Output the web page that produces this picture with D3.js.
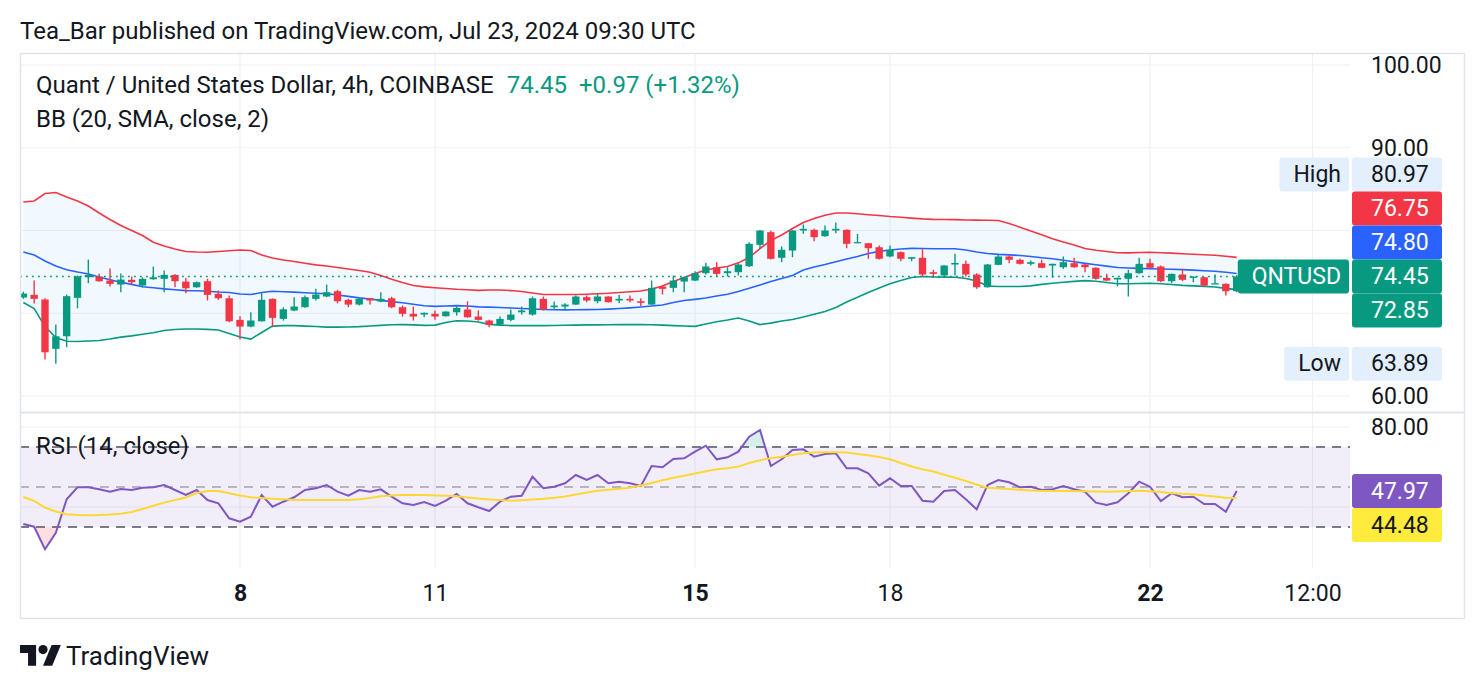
<!DOCTYPE html>
<meta charset="utf-8">
<script src="https://d3js.org/d3.v7.min.js"></script>
<style>
body { margin: 0; background: #fff; }
text { font-family: Roboto, "Noto Sans", sans-serif; fill: #131722; }
</style>
<div id="chart"></div>
<script>

// 4h bars, the first one opens Jul 4 2024 16:00 UTC
var firstBar = Date.UTC(2024, 6, 4, 16);
var barMs = 4 * 3600 * 1000;

var open = [71.90,72.22,71.66,65.70,67.22,71.86,74.35,74.44,73.95,73.47,
  74.04,73.35,74.11,74.16,74.64,73.83,73.14,73.87,72.35,71.81,
  69.20,68.39,69.03,71.74,69.32,70.33,70.73,71.74,72.02,72.66,
  71.62,71.05,71.81,71.41,71.81,70.73,69.93,69.84,69.93,69.64,
  70.12,70.45,69.60,69.12,68.63,69.20,70.12,69.84,71.74,70.73,
  70.81,71.05,71.94,71.45,72.02,71.54,71.74,71.45,71.05,73.23,
  73.07,73.83,73.95,74.84,75.56,74.84,74.96,75.68,78.27,79.80,
  76.70,77.58,80.00,80.08,79.31,80.00,80.08,78.50,78.46,77.98,
  76.86,77.38,76.58,76.70,74.96,74.56,75.89,75.97,74.68,73.14,
  75.85,76.86,76.46,75.97,76.05,75.77,75.56,76.05,75.89,75.49,
  74.28,74.08,74.16,74.84,76.05,75.65,73.87,74.68,74.28,74.35,
  73.47,73.55,72.66];
var high = [72.60,73.95,71.80,68.63,72.26,74.56,76.49,74.76,75.40,74.80,
  74.44,74.35,75.65,75.16,74.70,74.28,73.83,74.16,72.74,72.14,
  69.64,70.12,72.54,71.80,70.73,71.94,72.14,72.95,73.47,72.83,
  71.74,71.86,71.85,72.54,72.00,70.93,70.81,70.10,70.33,70.25,
  70.81,71.45,70.33,69.20,69.60,70.45,70.81,72.02,72.02,71.41,
  71.20,72.14,72.14,72.35,72.05,72.22,72.14,71.81,73.95,73.35,
  74.56,74.44,75.08,76.10,76.17,75.56,76.05,78.59,80.05,80.00,
  78.07,80.05,80.73,80.20,80.60,80.97,80.15,79.60,78.50,78.19,
  78.19,77.45,76.80,77.79,75.25,75.80,77.18,76.37,74.84,75.95,
  77.18,76.98,76.58,76.37,76.46,76.00,76.86,76.70,75.97,75.56,
  74.76,74.30,75.25,76.70,76.58,75.77,74.80,75.37,74.47,74.40,
  74.68,73.63,74.60];
var low = [71.75,71.17,64.40,63.89,65.89,70.60,73.63,73.80,73.23,72.54,
  73.47,73.14,74.04,72.54,73.14,72.42,73.07,71.54,71.62,68.91,
  66.82,68.30,69.00,68.31,69.12,70.24,70.65,71.54,71.94,71.20,
  70.73,70.93,71.05,71.33,70.60,69.60,69.12,69.52,69.20,69.60,
  69.72,69.44,69.10,68.31,68.50,69.03,69.84,69.72,70.33,70.45,
  70.45,71.00,71.33,71.20,71.30,71.20,71.33,70.85,71.00,72.26,
  72.54,72.54,73.90,74.68,74.44,74.44,74.56,75.60,77.79,76.50,
  76.17,76.77,79.60,78.70,79.25,79.67,77.86,78.46,76.58,76.50,
  76.77,76.29,76.29,74.44,74.28,74.35,74.56,74.44,72.95,73.10,
  75.80,76.05,75.89,75.77,75.45,74.28,75.37,75.49,74.96,74.04,
  73.90,73.23,72.02,74.76,75.37,73.75,73.63,73.87,73.75,73.23,
  73.60,72.14,72.55];
var close = [72.38,71.74,65.28,67.22,72.06,74.47,74.64,73.87,73.55,74.07,
  73.75,74.16,74.35,74.64,73.87,73.02,73.75,72.22,71.81,69.03,
  68.39,69.12,71.62,69.44,70.48,70.81,71.94,72.26,72.54,71.45,
  71.05,71.74,71.54,71.74,70.73,69.93,69.60,70.05,69.60,70.20,
  70.65,69.52,69.20,68.60,69.32,69.84,70.33,71.81,70.45,70.93,
  71.05,72.02,71.54,72.02,71.33,71.74,71.54,71.26,73.07,72.95,
  73.95,74.35,74.84,75.65,74.76,75.08,75.89,78.39,80.00,76.58,
  77.67,80.00,80.20,79.19,80.00,80.20,78.39,78.60,77.86,76.58,
  77.67,76.58,76.77,74.68,74.76,75.77,76.08,74.68,73.14,75.89,
  76.86,76.46,75.97,76.17,75.49,75.97,76.17,75.56,75.56,74.16,
  73.95,74.28,74.84,75.97,75.49,73.87,74.76,74.04,74.44,73.35,
  73.63,72.66,74.45];

// Bollinger Bands (20, SMA, close, 2)
var bbUpper = [83.45,83.57,84.47,84.59,84.05,83.57,82.96,82.12,81.33,80.60,
  80.00,79.40,78.59,78.13,77.76,77.46,77.40,77.38,77.46,77.55,
  77.64,77.58,77.04,76.67,76.43,76.25,76.05,75.85,75.71,75.53,
  75.34,75.16,74.96,74.56,74.11,73.71,73.35,73.19,73.08,72.99,
  72.90,72.84,72.77,72.81,72.81,72.74,72.62,72.44,72.26,72.26,
  72.26,72.26,72.30,72.35,72.41,72.50,72.59,72.68,72.93,73.29,
  73.83,74.32,74.80,75.22,75.47,75.65,76.09,76.74,77.82,78.79,
  79.46,80.24,80.97,81.45,81.85,82.12,82.12,82.02,81.91,81.81,
  81.69,81.60,81.50,81.41,81.35,81.33,81.31,81.27,81.25,81.23,
  81.21,80.85,80.40,79.94,79.48,78.99,78.61,78.25,77.82,77.61,
  77.46,77.32,77.30,77.34,77.38,77.32,77.26,77.19,77.13,77.07,
  77.01,76.89,76.75];
var bbBasis = [77.40,77.04,76.31,75.71,75.25,74.98,74.74,74.38,74.05,73.74,
  73.49,73.20,73.08,72.95,72.84,72.74,72.71,72.66,72.56,72.50,
  72.32,72.26,72.50,72.65,72.60,72.55,72.48,72.41,72.35,72.20,
  72.04,71.86,71.72,71.56,71.41,71.26,71.09,70.91,70.83,70.87,
  70.92,70.87,70.77,70.74,70.69,70.63,70.57,70.51,70.46,70.42,
  70.41,70.42,70.44,70.45,70.50,70.57,70.65,70.75,70.87,70.99,
  71.29,71.54,71.68,71.84,72.08,72.29,72.62,73.02,73.41,73.83,
  74.20,74.56,75.22,75.59,75.89,76.23,76.55,76.86,77.22,77.48,
  77.64,77.76,77.84,77.82,77.80,77.79,77.79,77.64,77.40,77.22,
  77.12,77.06,76.98,76.86,76.71,76.58,76.40,76.22,76.03,75.86,
  75.70,75.53,75.47,75.42,75.38,75.34,75.31,75.27,75.21,75.14,
  75.07,74.95,74.80];
var bbLower = [71.29,70.57,68.39,67.06,66.61,66.58,66.64,66.70,66.88,67.11,
  67.27,67.46,67.64,67.91,68.03,68.10,68.10,68.05,67.97,67.55,
  67.12,66.88,67.67,68.45,68.51,68.51,68.45,68.39,68.32,68.32,
  68.34,68.38,68.45,68.54,68.61,68.63,68.60,68.54,68.57,68.88,
  69.09,69.06,68.94,68.66,68.56,68.51,68.51,68.51,68.51,68.52,
  68.55,68.57,68.59,68.60,68.61,68.62,68.63,68.63,68.61,68.56,
  68.51,68.46,68.42,68.69,68.97,69.18,69.42,69.06,68.63,68.81,
  69.06,69.24,69.54,69.87,70.21,70.69,71.35,71.93,72.50,73.05,
  73.56,73.95,74.32,74.44,74.38,74.37,74.35,74.20,73.89,73.29,
  73.23,73.23,73.23,73.31,73.49,73.63,73.74,73.85,73.94,73.86,
  73.71,73.56,73.57,73.59,73.62,73.57,73.47,73.37,73.31,73.25,
  73.18,73.01,72.85];

// RSI (14, close) and its moving average
var rsi = [31.5,30.15,18.85,27.15,43.85,49.85,49.85,48.85,47.65,49.0,
  48.5,49.65,49.85,51.0,48.5,46.0,48.5,43.5,41.85,34.35,
  32.65,35.15,46.0,40.15,42.65,44.85,48.5,49.35,51.0,47.65,
  45.65,48.5,47.65,48.85,45.15,41.85,41.0,42.5,40.5,43.15,
  46.5,41.85,39.85,38.0,42.65,45.15,45.65,55.15,49.35,50.15,
  51.85,56.0,53.5,56.0,51.85,52.65,51.85,50.5,60.5,59.85,
  64.0,64.35,67.65,70.65,63.85,64.85,67.65,75.15,78.5,60.5,
  63.85,68.5,68.85,65.15,66.5,66.85,59.35,59.35,56.85,50.65,
  54.35,50.5,50.5,43.15,42.65,48.0,48.5,43.85,38.85,51.0,
  53.5,52.35,49.85,50.15,48.5,48.85,50.5,48.85,47.65,42.15,
  41.0,42.35,46.85,52.65,50.15,43.0,46.85,44.85,45.15,41.5,
  41.5,37.65,47.97];
var rsiMa = [45.0,43.0,39.75,37.75,36.35,36.0,35.85,35.95,36.2,36.6,
  37.5,39.0,40.6,42.2,43.5,44.75,47.0,48.0,48.0,46.85,
  45.75,44.85,44.5,44.15,43.85,43.6,43.5,43.5,43.5,43.5,
  43.5,43.9,44.5,45.35,45.75,46.0,46.0,46.0,45.8,45.6,
  45.35,44.8,44.25,43.8,43.45,43.15,43.4,43.75,44.1,44.6,
  45.25,46.25,47.25,48.15,48.65,49.1,49.6,50.75,52.0,53.35,
  54.6,55.65,56.75,57.85,58.9,59.4,60.2,62.0,63.4,64.4,
  65.15,66.0,66.85,67.2,67.35,67.4,67.2,66.5,65.9,65.0,
  63.85,62.0,60.25,58.85,57.75,56.1,54.6,53.0,51.25,49.65,
  49.25,48.95,48.6,48.25,48.0,48.0,48.0,48.0,47.9,47.75,
  47.65,47.8,48.0,48.15,47.9,47.5,46.9,46.6,46.35,45.7,
  45.2,44.6,44.48];

var lastChange = 0.97, lastChangePct = 1.32;
var sessionHigh = 80.97, sessionLow = 63.89;

var timeTicks = [Date.UTC(2024,6,8), Date.UTC(2024,6,11), Date.UTC(2024,6,15),
  Date.UTC(2024,6,18), Date.UTC(2024,6,22), Date.UTC(2024,6,24,12)];
var timeLabels = ["8", "11", "15", "18", "22", "12:00"];
var timeBold = [true, false, true, false, true, false];
var priceTicks = [60, 70, 80, 90, 100];
var rsiTicks = [40, 80];
var rsiLevels = [70, 50, 30];

var green = "#089981", red = "#f23645", blue = "#2962ff",
    purple = "#7e57c2", yellow = "#fdd835";
var gridColor = "#eef0f4", borderColor = "#e0e3eb";

var W = 1484, H = 690;
var box = { left: 20, right: 1350, axisRight: 1465, top: 53,
            priceBottom: 412, rsiTop: 413, rsiBottom: 568, bottom: 619 };
var fsText = "24px", fsAxis = "23px";

var bars = close.map(function(c, i) {
  return { t: new Date(firstBar + i * barMs), o: open[i], h: high[i], l: low[i], c: c,
           up: bbUpper[i], mid: bbBasis[i], lo: bbLower[i], rsi: rsi[i], ma: rsiMa[i] };
});
var last = bars[bars.length - 1];

var x = d3.scaleTime()
  .domain([new Date(Date.UTC(2024,6,8)), new Date(Date.UTC(2024,6,22))])
  .range([240, 1150]);
var y = d3.scaleLinear().domain([60, 100]).range([396, 65]);
var ry = d3.scaleLinear().domain([30, 70]).range([527, 447]);
var step = x(new Date(firstBar + barMs)) - x(new Date(firstBar));
var bodyW = step * 0.68;

var svg = d3.select("#chart").append("svg")
  .attr("width", W).attr("height", H).style("display", "block");
svg.append("rect").attr("width", W).attr("height", H).attr("fill", "#fff");

var defs = svg.append("defs");
function clip(id, x0, y0, x1, y1) {
  defs.append("clipPath").attr("id", id).append("rect")
    .attr("x", x0).attr("y", y0).attr("width", x1 - x0).attr("height", y1 - y0);
}
clip("cPrice", box.left, box.top, box.right, box.priceBottom);
clip("cRsi", box.left, box.rsiTop, box.right, box.rsiBottom);
clip("cOver", box.left, box.rsiTop, box.right, ry(70));
clip("cUnder", box.left, ry(30), box.right, box.rsiBottom);

// header
svg.append("text").attr("x", 20).attr("y", 31).attr("dominant-baseline", "central")
  .style("font-size", fsText)
  .text("Tea_Bar published on TradingView.com, Jul 23, 2024 09:30 UTC");

// grid
var grid = svg.append("g").attr("stroke", gridColor).attr("stroke-width", 1.2);
grid.selectAll(".hg").data(priceTicks).enter().append("line")
  .attr("x1", box.left).attr("x2", box.right)
  .attr("y1", function(d) { return y(d); }).attr("y2", function(d) { return y(d); });
grid.selectAll(".rg").data(rsiTicks).enter().append("line")
  .attr("x1", box.left).attr("x2", box.right)
  .attr("y1", function(d) { return ry(d); }).attr("y2", function(d) { return ry(d); });
grid.selectAll(".vg").data(timeTicks).enter().append("line")
  .attr("x1", function(d) { return x(d); }).attr("x2", function(d) { return x(d); })
  .attr("y1", box.top).attr("y2", box.rsiBottom);

// price pane
var pane = svg.append("g").attr("clip-path", "url(#cPrice)");
var tx = function(d) { return x(d.t); };

pane.append("path").datum(bars)
  .attr("fill", "rgba(33,150,243,0.06)")
  .attr("d", d3.area().x(tx).y0(function(d) { return y(d.lo); }).y1(function(d) { return y(d.up); }));
[["up", red], ["mid", blue], ["lo", green]].forEach(function(s) {
  pane.append("path").datum(bars)
    .attr("fill", "none").attr("stroke", s[1]).attr("stroke-width", 1.6)
    .attr("d", d3.line().x(tx).y(function(d) { return y(d[s[0]]); }));
});

var candle = pane.selectAll(".candle").data(bars).enter().append("g")
  .attr("fill", function(d) { return d.c >= d.o ? green : red; })
  .attr("stroke", function(d) { return d.c >= d.o ? green : red; });
candle.append("line")
  .attr("x1", tx).attr("x2", tx).attr("stroke-width", 1.4)
  .attr("y1", function(d) { return y(d.h); }).attr("y2", function(d) { return y(d.l); });
candle.append("rect").attr("stroke", "none")
  .attr("x", function(d) { return x(d.t) - bodyW / 2; }).attr("width", bodyW)
  .attr("y", function(d) { return y(Math.max(d.o, d.c)); })
  .attr("height", function(d) { return Math.max(1.2, Math.abs(y(d.o) - y(d.c))); });

// last price dotted line
pane.append("line")
  .attr("x1", box.left).attr("x2", box.right)
  .attr("y1", y(last.c)).attr("y2", y(last.c))
  .attr("stroke", green).attr("stroke-width", 1.6).attr("stroke-dasharray", "1.8,4.2");

// legends
var lg = svg.append("text").attr("x", 36).attr("y", 85).attr("dominant-baseline", "central")
  .style("font-size", fsText);
lg.append("tspan").text("Quant / United States Dollar, 4h, COINBASE");
lg.append("tspan").attr("dx", 13).style("fill", green).text(last.c.toFixed(2));
lg.append("tspan").attr("dx", 12).style("fill", green)
  .text("+" + lastChange.toFixed(2) + " (+" + lastChangePct.toFixed(2) + "%)");
svg.append("text").attr("x", 36).attr("y", 119).attr("dominant-baseline", "central")
  .style("font-size", fsText).text("BB (20, SMA, close, 2)");

// RSI pane
var rp = svg.append("g").attr("clip-path", "url(#cRsi)");
rp.append("rect").attr("x", box.left).attr("width", box.right - box.left)
  .attr("y", ry(70)).attr("height", ry(30) - ry(70)).attr("fill", "rgba(126,87,194,0.1)");
rp.selectAll(".lvl").data(rsiLevels).enter().append("line")
  .attr("x1", box.left).attr("x2", box.right)
  .attr("y1", function(d) { return ry(d); }).attr("y2", function(d) { return ry(d); })
  .attr("stroke", function(d) { return d === 50 ? "rgba(120,123,134,0.5)" : "#787b86"; })
  .attr("stroke-width", 2).attr("stroke-dasharray", "9,7");

rp.append("path").datum(bars).attr("clip-path", "url(#cOver)")
  .attr("fill", "rgba(8,153,129,0.16)")
  .attr("d", d3.area().x(tx).y0(ry(70)).y1(function(d) { return ry(d.rsi); }));
rp.append("path").datum(bars).attr("clip-path", "url(#cUnder)")
  .attr("fill", "rgba(242,54,69,0.16)")
  .attr("d", d3.area().x(tx).y0(ry(30)).y1(function(d) { return ry(d.rsi); }));
rp.append("path").datum(bars).attr("fill", "none")
  .attr("stroke", purple).attr("stroke-width", 2)
  .attr("d", d3.line().x(tx).y(function(d) { return ry(d.rsi); }));
rp.append("path").datum(bars).attr("fill", "none")
  .attr("stroke", yellow).attr("stroke-width", 2)
  .attr("d", d3.line().x(tx).y(function(d) { return ry(d.ma); }));

svg.append("text").attr("x", 36).attr("y", 446).attr("dominant-baseline", "central")
  .style("font-size", fsText).text("RSI (14, close)");

// frame
svg.append("rect").attr("x", box.left + 0.5).attr("y", box.top + 0.5)
  .attr("width", box.axisRight - box.left - 1).attr("height", box.bottom - box.top - 1)
  .attr("fill", "none").attr("stroke", borderColor).attr("stroke-width", 1.5);
svg.append("line").attr("x1", box.left).attr("x2", box.axisRight)
  .attr("y1", box.priceBottom + 0.5).attr("y2", box.priceBottom + 0.5)
  .attr("stroke", borderColor).attr("stroke-width", 2);

// price badges, stacked around the last price like the platform does
var badgeH = 34;
function stack(list, scale, anchor) {
  var pos = list.map(function(b) { return scale(b.v); });
  for (var i = anchor - 1; i >= 0; i--) pos[i] = Math.min(pos[i], pos[i + 1] - badgeH);
  for (var j = anchor + 1; j < list.length; j++) pos[j] = Math.max(pos[j], pos[j - 1] + badgeH);
  return pos;
}
var priceBadges = [
  { v: sessionHigh, bg: "#e3effd", fg: "#131722", tag: "High" },
  { v: bbUpper[bbUpper.length - 1], bg: red, fg: "#fff" },
  { v: bbBasis[bbBasis.length - 1], bg: blue, fg: "#fff" },
  { v: last.c, bg: green, fg: "#fff", tag: "QNTUSD" },
  { v: bbLower[bbLower.length - 1], bg: green, fg: "#fff" },
  { v: sessionLow, bg: "#e3effd", fg: "#131722", tag: "Low" }
];
var rsiBadges = [
  { v: last.rsi, bg: purple, fg: "#fff" },
  { v: last.ma, bg: "#ffeb3b", fg: "#131722" }
];
var pricePos = stack(priceBadges, y, 3);
var rsiPos = stack(rsiBadges, ry, 0);

// axes; tick labels hidden under a badge are left out, as on the platform
function covered(v, pos) {
  return pos.some(function(p) { return Math.abs(v - p) < badgeH / 2 + 2; });
}
function styleAxis(g) {
  g.select(".domain").remove();
  g.selectAll("text").style("font-size", fsAxis).style("fill", "#131722");
}
svg.append("g").attr("transform", "translate(" + (box.right + 14) + ",0)")
  .call(d3.axisRight(y).tickSize(0).tickPadding(7).tickFormat(d3.format(".2f"))
    .tickValues(priceTicks.filter(function(t) { return !covered(y(t), pricePos); })))
  .call(styleAxis);
svg.append("g").attr("transform", "translate(" + (box.right + 14) + ",0)")
  .call(d3.axisRight(ry).tickSize(0).tickPadding(7).tickFormat(d3.format(".2f"))
    .tickValues(rsiTicks.filter(function(t) { return !covered(ry(t), rsiPos); })))
  .call(styleAxis);
svg.append("g").attr("transform", "translate(0,585)")
  .call(d3.axisBottom(x).tickValues(timeTicks.map(function(t) { return new Date(t); }))
    .tickFormat(function(d, i) { return timeLabels[i]; }).tickSize(0).tickPadding(0))
  .call(styleAxis)
  .selectAll("text").style("font-weight", function(d, i) { return timeBold[i] ? 700 : 400; });

function drawBadges(list, pos, x0, xVal) {
  list.forEach(function(b, k) {
    var g = svg.append("g");
    g.append("rect").attr("x", x0).attr("y", pos[k] - badgeH / 2).attr("width", 90)
      .attr("height", badgeH).attr("rx", 3).attr("fill", b.bg);
    g.append("text").attr("x", xVal).attr("y", pos[k]).attr("dominant-baseline", "central")
      .style("font-size", fsAxis).style("fill", b.fg).text(b.v.toFixed(2));
    if (b.tag) {
      var tg = g.append("g");
      var t = tg.append("text").attr("x", x0 - 11).attr("y", pos[k])
        .attr("dominant-baseline", "central").attr("text-anchor", "end")
        .style("font-size", fsAxis).style("fill", b.fg).text(b.tag);
      var w = t.node().getComputedTextLength() + 22;
      tg.insert("rect", "text").attr("x", x0 - 3 - w).attr("y", pos[k] - badgeH / 2)
        .attr("width", w).attr("height", badgeH).attr("rx", 3).attr("fill", b.bg);
    }
  });
}
drawBadges(priceBadges, pricePos, box.right + 2, box.right + 21);
drawBadges(rsiBadges, rsiPos, box.right + 2, box.right + 21);

// footer logo
var logo = svg.append("g").attr("transform", "translate(20,640.4) scale(1.15)").attr("fill", "#131722");
logo.append("path").attr("d", "M14 22H7V11H0V4h14v18zM28 22h-8l7.5-18h8L28 22z");
logo.append("circle").attr("cx", 20).attr("cy", 8).attr("r", 4);
svg.append("text").attr("x", 66).attr("y", 656).attr("dominant-baseline", "central")
  .style("font-size", "26px").text("TradingView");

</script>
